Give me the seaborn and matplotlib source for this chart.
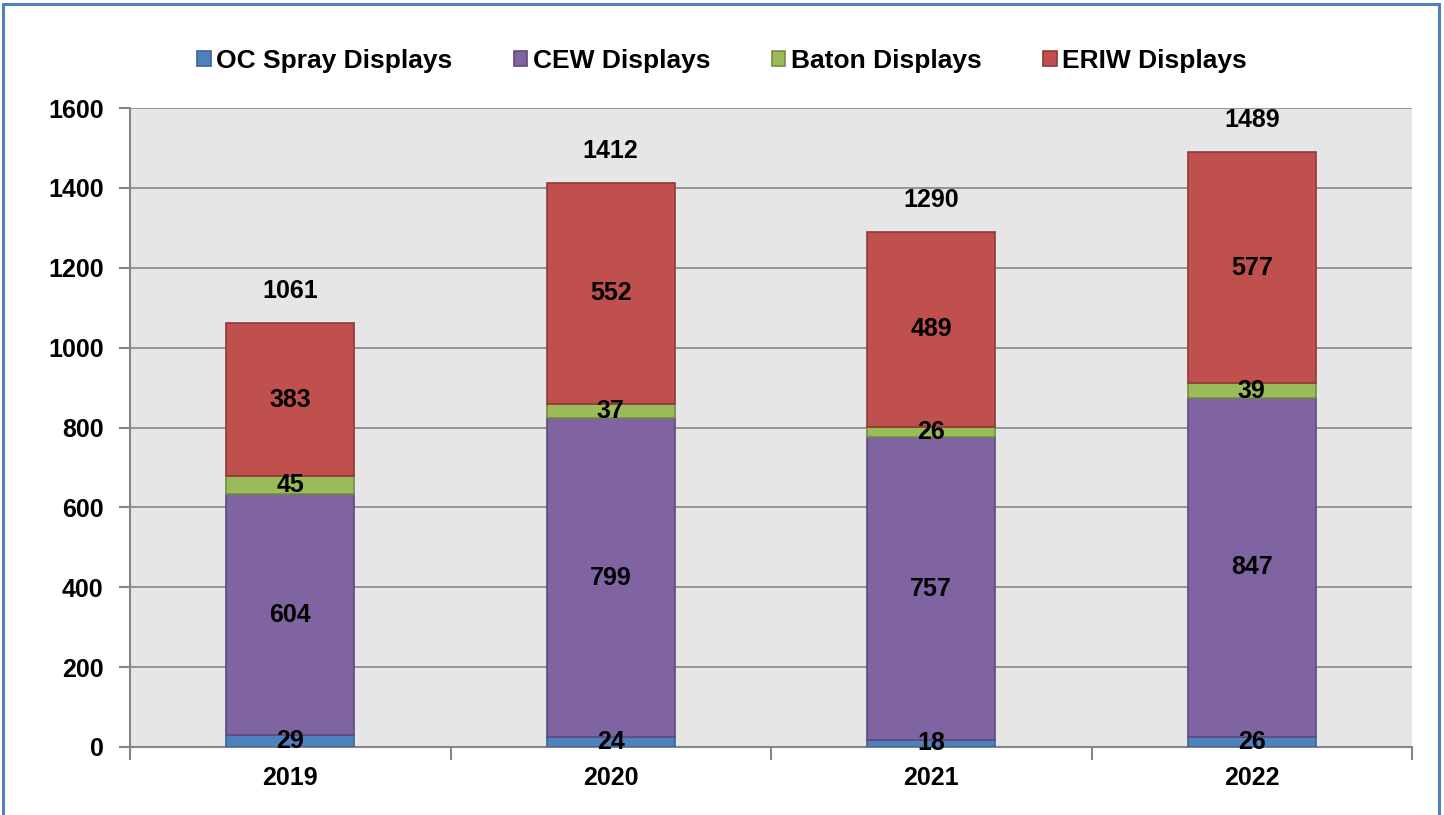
import matplotlib
matplotlib.use("Agg")
import matplotlib.pyplot as plt
import seaborn as sns
import pandas as pd
import numpy as np
from matplotlib.patches import Rectangle, Patch
from matplotlib.ticker import FixedLocator

years = ["2019", "2020", "2021", "2022"]
oc_spray = [29, 24, 18, 26]
cew = [604, 799, 757, 847]
baton = [45, 37, 26, 39]
eriw = [383, 552, 489, 577]
series_names = ["OC Spray Displays", "CEW Displays", "Baton Displays", "ERIW Displays"]
yticks = [0, 200, 400, 600, 800, 1000, 1200, 1400, 1600]

colors = ["#4F81BD", "#8064A2", "#9BBB59", "#C0504D"]
edges = ["#3A6595", "#5E4A7C", "#748E41", "#8E3A38"]

sns.set_theme(style="white")
plt.rcParams["font.family"] = ["Liberation Sans", "DejaVu Sans"]
plt.rcParams["font.weight"] = "bold"
plt.rcParams["text.color"] = "black"
plt.rcParams["xtick.color"] = "#868686"
plt.rcParams["ytick.color"] = "#868686"
plt.rcParams["xtick.labelcolor"] = "black"
plt.rcParams["ytick.labelcolor"] = "black"

fig = plt.figure(figsize=(14.44, 8.15), dpi=100)
ax = fig.add_axes([130/1444, 1-747/815, (1412-130)/1444, (747-108)/815])
ax.set_facecolor("#E6E6E6")

df = pd.DataFrame({"year": years, "oc": oc_spray, "cew": cew, "baton": baton, "eriw": eriw})
cols = ["oc", "cew", "baton", "eriw"]
bottom = np.zeros(len(years))
for c, col, ec in zip(cols, colors, edges):
    sns.barplot(data=df, x="year", y=c, bottom=bottom, color=col, width=0.4,
                edgecolor=ec, linewidth=1.2, saturation=1, errorbar=None, ax=ax, zorder=3)
    vals = df[c].to_numpy()
    for i, v in enumerate(vals):
        ax.text(i, bottom[i] + v/2, str(v), ha="center", va="center",
                fontsize=18, fontweight="bold", color="black", zorder=5)
    bottom = bottom + vals

for i, t in enumerate(bottom):
    ax.annotate(str(int(t)), (i, t), xytext=(0, 23), textcoords="offset points",
                ha="center", va="center", fontsize=18, fontweight="bold", color="black")

ax.set_xlim(-0.5, 3.5)
ax.set_ylim(0, 1600)
ax.set_yticks(yticks)
ax.set_yticklabels([str(v) for v in yticks], fontsize=18, fontweight="bold", color="black")
ax.set_xticks(range(len(years)))
ax.set_xticklabels(years, fontsize=18, fontweight="bold", color="black")
ax.set_xlabel("")
ax.set_ylabel("")
ax.grid(axis="y", color="#868686", linewidth=1.2, zorder=0)
ax.set_axisbelow(True)
for s in ["top", "right"]:
    ax.spines[s].set_visible(False)
for s in ["left", "bottom"]:
    ax.spines[s].set_color("#868686")
    ax.spines[s].set_linewidth(1.5)
ax.tick_params(axis="y", left=True, length=8, width=1.5, color="#868686", direction="out", pad=11)
ax.tick_params(axis="x", which="major", bottom=False, length=0, pad=14)
ax.xaxis.set_minor_locator(FixedLocator([-0.5, 0.5, 1.5, 2.5, 3.5]))
ax.tick_params(axis="x", which="minor", bottom=True, length=9, width=1.5, color="#868686", direction="out")

handles = [Patch(facecolor=c, edgecolor=e, linewidth=1.2) for c, e in zip(colors, edges)]
leg = fig.legend(handles, series_names, loc="center", bbox_to_anchor=(0.5, 1-61/815), ncol=4,
                 frameon=False, prop={"size": 19, "weight": "bold"}, handlelength=0.5,
                 handleheight=0.5, handletextpad=0.2, columnspacing=2.35)
for t in leg.get_texts():
    t.set_color("black")

fig.patches.append(Rectangle((3/1444, -0.05), 1436/1444, 1-4/815+0.05,
                             transform=fig.transFigure, fill=False,
                             edgecolor="#4F81BD", linewidth=2.2, zorder=10))

fig.savefig("out.png", dpi=100)
